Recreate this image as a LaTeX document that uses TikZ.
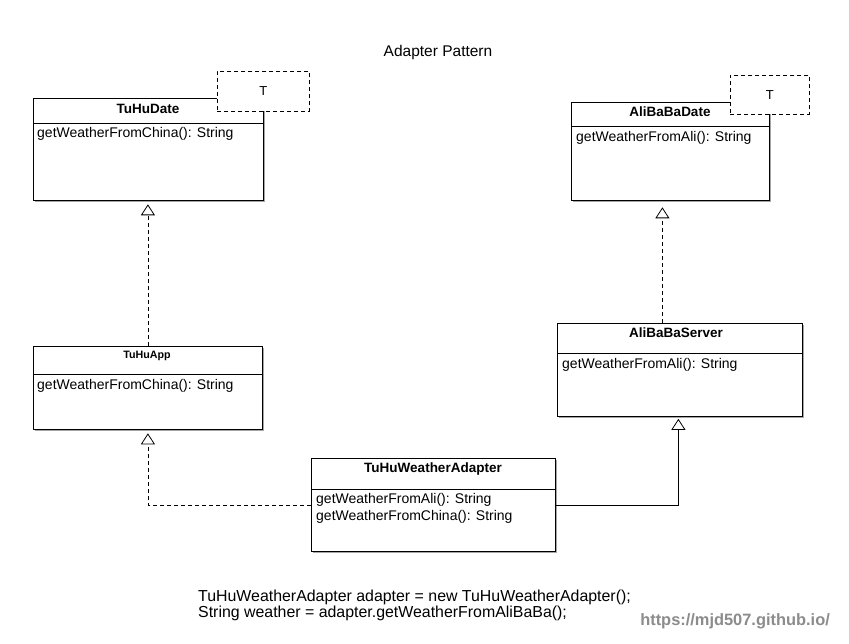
\documentclass[tikz,border=0pt]{standalone}
\usepackage{fontspec}
\setmainfont{Liberation Sans}
\usetikzlibrary{arrows.meta,shadows}
\begin{document}
\begin{tikzpicture}[x=1pt,y=-1pt,
  cls/.style={draw, line width=0.8pt, fill=white, anchor=north west, inner sep=0pt,
    drop shadow={shadow xshift=1.5pt, shadow yshift=-2pt, opacity=0.35, fill=black}},
  tbox/.style={draw, line width=0.8pt, dash pattern=on 4pt off 3pt, fill=white, anchor=north west,
    inner sep=0pt, font=\fontsize{13}{15}\selectfont},
  hdr/.style={inner sep=0pt, font=\fontsize{13.5}{15}\selectfont\bfseries},
  meth/.style={inner sep=0pt, anchor=west, align=left, font=\fontsize{14}{17}\selectfont},
  divider/.style={line width=0.8pt},
  realize/.style={line width=0.8pt, dash pattern=on 4pt off 3pt,
    -{Triangle[length=11pt,width=14pt,fill=white,line width=0.8pt]}},
  inherit/.style={line width=0.8pt,
    -{Triangle[length=11pt,width=14pt,fill=white,line width=0.8pt]}}]
\fill[white] (0,0) rectangle (849,644);
\useasboundingbox (0,0) rectangle (849,644);

\node[font=\fontsize{15.5}{17}\selectfont] (title) at (438,52) {Adapter Pattern};

% TuHuDate
\node[cls, minimum width=230pt, minimum height=102pt] (tuhudate) at (33,98) {};
\draw[divider] (33,123) -- (263,123);
\node[hdr] (tuhudateH) at (148,109) {TuHuDate};
\node[meth] (tuhudateM) at (37,134) {getWeatherFromChina(): String};
\node[tbox, minimum width=92pt, minimum height=40pt] (tuhuT) at (217,71) {T};

% AliBaBaDate
\node[cls, minimum width=198pt, minimum height=98pt] (alidate) at (571,102) {};
\draw[divider] (571,126) -- (769,126);
\node[hdr] (alidateH) at (670,112) {AliBaBaDate};
\node[meth] (alidateM) at (576,138) {getWeatherFromAli(): String};
\node[tbox, minimum width=79pt, minimum height=39pt] (aliT) at (730,75) {T};

% TuHuApp
\node[cls, minimum width=229pt, minimum height=83pt] (tuhuapp) at (33,346) {};
\draw[divider] (33,374) -- (262,374);
\node[hdr, font=\fontsize{10.7}{12}\selectfont\bfseries] (tuhuappH) at (147,356) {TuHuApp};
\node[meth] (tuhuappM) at (37,386) {getWeatherFromChina(): String};

% AliBaBaServer
\node[cls, minimum width=245pt, minimum height=93pt] (aliserver) at (557,323) {};
\draw[divider] (557,353) -- (802,353);
\node[hdr] (aliserverH) at (676,333) {AliBaBaServer};
\node[meth] (aliserverM) at (562,365) {getWeatherFromAli(): String};

% TuHuWeatherAdapter
\node[cls, minimum width=244pt, minimum height=93pt] (adapter) at (311,458) {};
\draw[divider] (311,489) -- (555,489);
\node[hdr] (adapterH) at (433,469) {TuHuWeatherAdapter};
\node[meth] (adapterM) at (316,508.5) {getWeatherFromAli(): String\\getWeatherFromChina(): String};

% connectors
\draw[realize, shorten >=3.5pt] (tuhuapp.north) -- (tuhuapp.north |- tuhudate.south);
\coordinate (a2) at ([xshift=-8pt]alidate.south);
\draw[realize, shorten >=6.5pt] (a2 |- aliserver.north) -- (a2);
\draw[realize, shorten >=3.5pt] (adapter.west) -| (tuhuapp.south);
\coordinate (a4) at ([xshift=-1.5pt]aliserver.south);
\draw[inherit, shorten >=2pt] (adapter.east) -| (a4);

% code
\node[inner sep=0pt, anchor=west, align=left, font=\fontsize{15.9}{16}\selectfont] (code) at (198,605)
  {TuHuWeatherAdapter adapter = new TuHuWeatherAdapter();\\String weather = adapter.getWeatherFromAliBaBa();};
\node[inner sep=0pt, anchor=east, text=black!45, font=\fontsize{16.4}{18}\selectfont\bfseries] (url) at (830,621)
  {https://mjd507.github.io/};
\end{tikzpicture}
\end{document}
